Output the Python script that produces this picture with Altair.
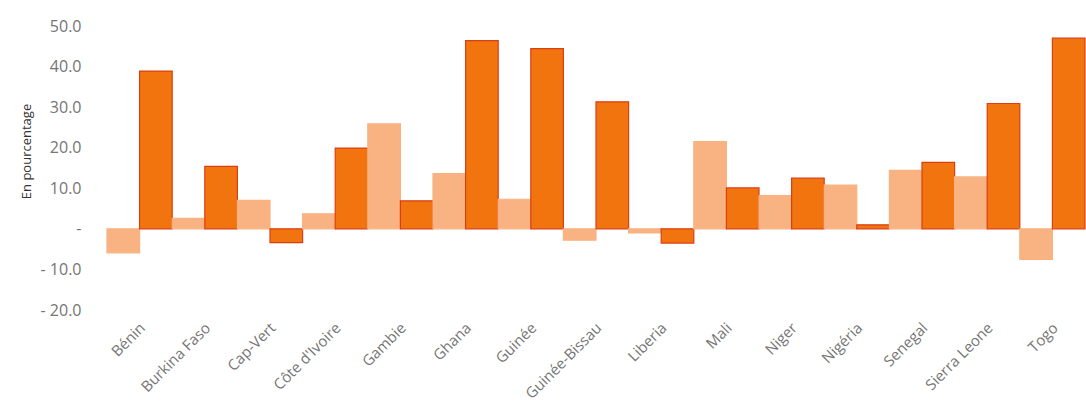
import altair as alt
import pandas as pd

# Pays de la CEDEAO, dans l'ordre de l'axe
pays = [
    "Bénin", "Burkina Faso", "Cap-Vert", "Côte d'Ivoire", "Gambie", "Ghana",
    "Guinée", "Guinée-Bissau", "Liberia", "Mali", "Niger", "Nigéria",
    "Senegal", "Sierra Leone", "Togo",
]

# Valeurs en pourcentage (série claire, série foncée)
serie_claire = [-5.9, 2.6, 7.0, 3.7, 25.9, 13.6, 7.3, -2.8, -1.0, 21.5, 8.2, 10.8, 14.4, 12.8, -7.5]
serie_foncee = [38.9, 15.4, -3.4, 19.9, 6.9, 46.4, 44.4, 31.3, -3.5, 10.1, 12.5, 1.0, 16.4, 30.9, 47.0]

# Graduations de l'axe vertical
graduations = [-20, -10, 0, 10, 20, 30, 40, 50]

lignes = []
for p, a, b in zip(pays, serie_claire, serie_foncee):
    lignes.append({"pays": p, "serie": "claire", "valeur": a})
    lignes.append({"pays": p, "serie": "foncee", "valeur": b})
df = pd.DataFrame(lignes)

police = "Open Sans"
gris = "#757575"

chart = alt.Chart(df).mark_bar(strokeWidth=1.2).encode(
    x=alt.X(
        "pays:N",
        sort=pays,
        scale=alt.Scale(paddingInner=0, paddingOuter=0),
        axis=alt.Axis(
            title=None, labelAngle=-45, labelAlign="right", labelBaseline="middle",
            labelPadding=15, labelOffset=3, ticks=False, domain=False, labelFont=police,
            labelFontSize=15, labelColor=gris,
        ),
    ),
    xOffset=alt.XOffset("serie:N", sort=["claire", "foncee"],
                        scale=alt.Scale(paddingInner=0, paddingOuter=0)),
    y=alt.Y(
        "valeur:Q",
        scale=alt.Scale(domain=[-20, 50], nice=False, zero=False),
        axis=alt.Axis(
            title="En pourcentage", values=graduations, grid=False, ticks=False,
            domain=False, labelPadding=26, labelFont=police, labelFontSize=16,
            labelColor=gris,
            labelExpr="datum.value == 0 ? '-' : (datum.value < 0 ? '- ' + format(-datum.value, '.1f') : format(datum.value, '.1f'))",
            titleFont=police, titleFontSize=13, titleFontWeight="normal",
            titleColor="#333333", titlePadding=7, titleY=125,
        ),
    ),
    color=alt.Color("serie:N", scale=alt.Scale(domain=["claire", "foncee"],
                                               range=["#F9B383", "#F2740F"]), legend=None),
    stroke=alt.Stroke("serie:N", scale=alt.Scale(domain=["claire", "foncee"],
                                                 range=["#F9B383", "#DC3E12"]), legend=None),
).properties(
    width=978,
    height=284,
    padding={"left": 20, "top": 18, "right": 0, "bottom": 0},
).configure_view(stroke=None)

chart.save("out.html", embed_options={"renderer": "svg", "actions": False})
